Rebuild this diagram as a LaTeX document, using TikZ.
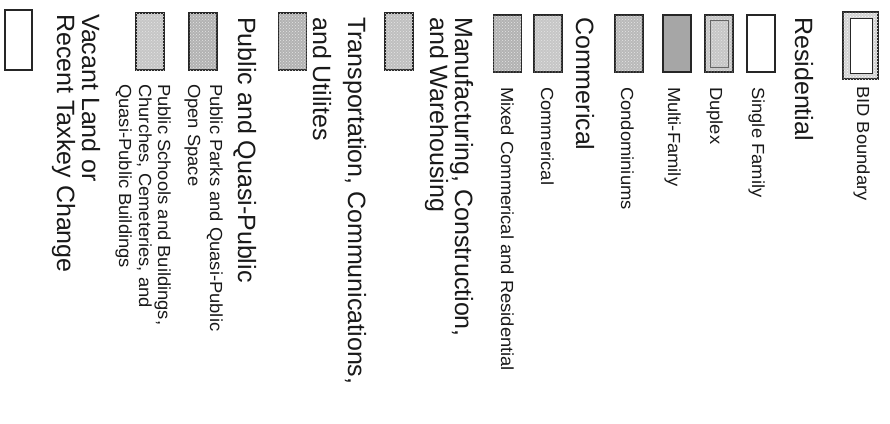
\documentclass[tikz,border=0pt]{standalone}
\usepackage{fontspec}
\setmainfont{Liberation Sans}
\newfontfamily\smallfnt[FakeStretch=1.05]{Liberation Sans}
\usetikzlibrary{patterns}
\begin{document}
\begin{tikzpicture}[x=1pt,y=-1pt,
  head/.style={rotate=-90, anchor=base west, inner sep=0pt, text=black!90, font=\fontsize{25}{25}\selectfont},
  lab/.style={rotate=-90, anchor=base west, inner sep=0pt, text=black!90, font=\smallfnt\fontsize{17.5}{17.5}\selectfont},
  swatch/.style={draw=black!85, line width=1.3pt, minimum width=28pt, minimum height=57pt, inner sep=0pt},
  tex/.style={swatch, fill=#1, postaction={pattern=crosshatch dots, pattern color=white!80!gray}}]
\useasboundingbox (0,0) rectangle (890,423);
\fill[white] (0,0) rectangle (890,423);
% BID boundary
\node[draw=black!85, line width=1.3pt, minimum width=35pt, minimum height=67pt, inner sep=0pt,
  fill=gray!35, postaction={pattern=crosshatch dots, pattern color=white}] (bidout) at (860.5,45.5) {};
\node[draw=black!85, line width=1pt, fill=white, minimum width=22pt, minimum height=55pt, inner sep=0pt] (bidin) at (861,45.5) {};
\node[lab] (bidl) at (857,86) {BID Boundary};
% Residential
\node[head] (res) at (795,17) {Residential};
\node[swatch, fill=white] (sfb) at (761,43.5) {};
\node[lab] (sfl) at (752,87) {Single Family};
\node[tex=gray!45] (dub) at (719,43.5) {};
\node[draw=black!60, line width=0.6pt, minimum width=18pt, minimum height=47pt, inner sep=0pt] (dubi) at (719,43.5) {};
\node[lab] (dul) at (710,87) {Duplex};
\node[swatch, fill=gray!70] (mfb) at (677,43.5) {};
\node[lab] (mfl) at (668,87) {Multi-Family};
\node[tex=gray!55] (cob) at (629,43.5) {};
\node[lab] (col) at (621,87) {Condominiums};
% Commerical
\node[head] (com) at (576,17) {Commerical};
\node[tex=gray!45] (cmb) at (548,43.5) {};
\node[lab] (cml) at (541,87) {Commerical};
\node[tex=gray!60] (mxb) at (507.5,43.5) {};
\node[lab] (mxl) at (501,87) {Mixed Commerical and Residential};
% Manufacturing
\node[head] (man1) at (455,17) {Manufacturing, Construction,};
\node[head] (man2) at (430,17) {and Warehousing};
\node[tex=gray!50] (manb) at (399,41.5) {};
% Transportation
\node[head] (tr1) at (348,17) {Transportation, Communications,};
\node[head] (tr2) at (313,17) {and Utilites};
\node[tex=gray!60] (trb) at (292.5,41.5) {};
% Public
\node[head] (pub) at (238,17) {Public and Quasi-Public};
\node[tex=gray!60] (ppb) at (203,41.5) {};
\node[lab] (ppl1) at (210,84) {Public Parks and Quasi-Public};
\node[lab] (ppl2) at (188,84) {Open Space};
\node[tex=gray!45] (psb) at (150,41.5) {};
\node[lab] (psl1) at (158,84) {Public Schools and Buildings,};
\node[lab] (psl2) at (139,84) {Churches, Cemeteries, and};
\node[lab] (psl3) at (119,84) {Quasi-Public Buildings};
% Vacant
\node[head] (va1) at (82,14) {Vacant Land or};
\node[head] (va2) at (57,14) {Recent Taxkey Change};
\node[swatch, fill=white, minimum width=27pt, minimum height=60pt] (vab) at (18.5,40) {};
\end{tikzpicture}
\end{document}
